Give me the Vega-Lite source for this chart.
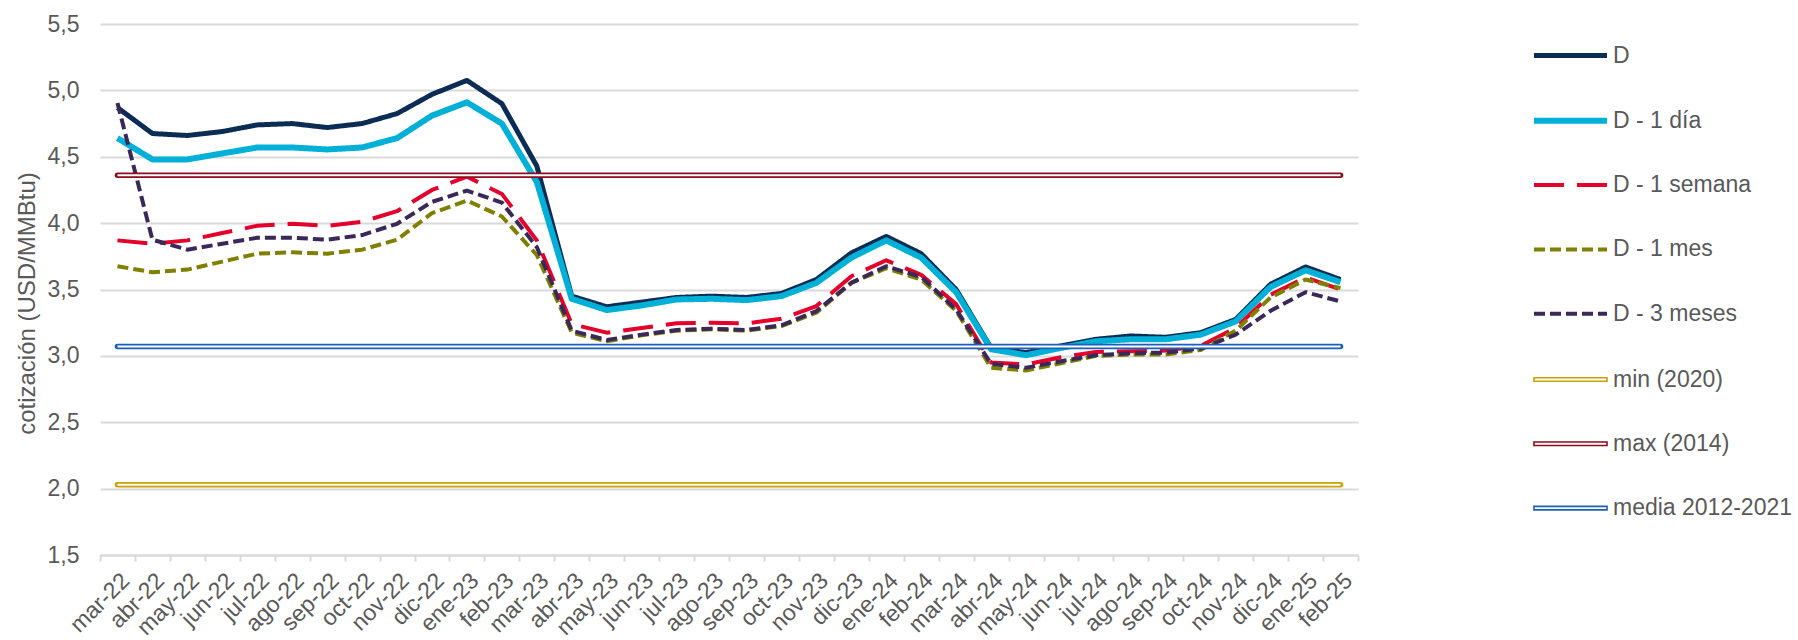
{
  "$schema": "https://vega.github.io/schema/vega-lite/v6.json",
  "width": 1258,
  "height": 531,
  "autosize": {"type": "none"},
  "padding": {"left": 100, "top": 24, "right": 440, "bottom": 85},
  "background": "white",
  "config": {
    "view": {"stroke": null},
    "font": "Liberation Sans",
    "axis": {"labelFont": "Liberation Sans", "titleFont": "Liberation Sans", "labelColor": "#595959", "titleColor": "#595959"},
    "legend": {"labelFont": "Liberation Sans"}
  },
  "datasets": {
    "series": [
      {"m":"mar-22","s":"D","v":4.87},{"m":"abr-22","s":"D","v":4.675},{"m":"may-22","s":"D","v":4.66},{"m":"jun-22","s":"D","v":4.69},{"m":"jul-22","s":"D","v":4.74},{"m":"ago-22","s":"D","v":4.75},{"m":"sep-22","s":"D","v":4.72},{"m":"oct-22","s":"D","v":4.75},{"m":"nov-22","s":"D","v":4.825},{"m":"dic-22","s":"D","v":4.97},{"m":"ene-23","s":"D","v":5.075},{"m":"feb-23","s":"D","v":4.9},{"m":"mar-23","s":"D","v":4.43},{"m":"abr-23","s":"D","v":3.45},{"m":"may-23","s":"D","v":3.37},{"m":"jun-23","s":"D","v":3.405},{"m":"jul-23","s":"D","v":3.44},{"m":"ago-23","s":"D","v":3.45},{"m":"sep-23","s":"D","v":3.44},{"m":"oct-23","s":"D","v":3.47},{"m":"nov-23","s":"D","v":3.575},{"m":"dic-23","s":"D","v":3.775},{"m":"ene-24","s":"D","v":3.9},{"m":"feb-24","s":"D","v":3.77},{"m":"mar-24","s":"D","v":3.5},{"m":"abr-24","s":"D","v":3.06},{"m":"may-24","s":"D","v":3.025},{"m":"jun-24","s":"D","v":3.075},{"m":"jul-24","s":"D","v":3.125},{"m":"ago-24","s":"D","v":3.15},{"m":"sep-24","s":"D","v":3.14},{"m":"oct-24","s":"D","v":3.175},{"m":"nov-24","s":"D","v":3.275},{"m":"dic-24","s":"D","v":3.54},{"m":"ene-25","s":"D","v":3.67},{"m":"feb-25","s":"D","v":3.575},
      {"m":"mar-22","s":"D - 1 día","v":4.64},{"m":"abr-22","s":"D - 1 día","v":4.48},{"m":"may-22","s":"D - 1 día","v":4.48},{"m":"jun-22","s":"D - 1 día","v":4.525},{"m":"jul-22","s":"D - 1 día","v":4.57},{"m":"ago-22","s":"D - 1 día","v":4.57},{"m":"sep-22","s":"D - 1 día","v":4.555},{"m":"oct-22","s":"D - 1 día","v":4.57},{"m":"nov-22","s":"D - 1 día","v":4.64},{"m":"dic-22","s":"D - 1 día","v":4.81},{"m":"ene-23","s":"D - 1 día","v":4.91},{"m":"feb-23","s":"D - 1 día","v":4.75},{"m":"mar-23","s":"D - 1 día","v":4.31},{"m":"abr-23","s":"D - 1 día","v":3.43},{"m":"may-23","s":"D - 1 día","v":3.345},{"m":"jun-23","s":"D - 1 día","v":3.38},{"m":"jul-23","s":"D - 1 día","v":3.425},{"m":"ago-23","s":"D - 1 día","v":3.43},{"m":"sep-23","s":"D - 1 día","v":3.42},{"m":"oct-23","s":"D - 1 día","v":3.45},{"m":"nov-23","s":"D - 1 día","v":3.55},{"m":"dic-23","s":"D - 1 día","v":3.74},{"m":"ene-24","s":"D - 1 día","v":3.87},{"m":"feb-24","s":"D - 1 día","v":3.74},{"m":"mar-24","s":"D - 1 día","v":3.48},{"m":"abr-24","s":"D - 1 día","v":3.05},{"m":"may-24","s":"D - 1 día","v":3.005},{"m":"jun-24","s":"D - 1 día","v":3.06},{"m":"jul-24","s":"D - 1 día","v":3.11},{"m":"ago-24","s":"D - 1 día","v":3.125},{"m":"sep-24","s":"D - 1 día","v":3.125},{"m":"oct-24","s":"D - 1 día","v":3.16},{"m":"nov-24","s":"D - 1 día","v":3.26},{"m":"dic-24","s":"D - 1 día","v":3.52},{"m":"ene-25","s":"D - 1 día","v":3.645},{"m":"feb-25","s":"D - 1 día","v":3.555},
      {"m":"mar-22","s":"D - 1 semana","v":3.87},{"m":"abr-22","s":"D - 1 semana","v":3.845},{"m":"may-22","s":"D - 1 semana","v":3.87},{"m":"jun-22","s":"D - 1 semana","v":3.925},{"m":"jul-22","s":"D - 1 semana","v":3.98},{"m":"ago-22","s":"D - 1 semana","v":3.995},{"m":"sep-22","s":"D - 1 semana","v":3.98},{"m":"oct-22","s":"D - 1 semana","v":4.01},{"m":"nov-22","s":"D - 1 semana","v":4.09},{"m":"dic-22","s":"D - 1 semana","v":4.25},{"m":"ene-23","s":"D - 1 semana","v":4.35},{"m":"feb-23","s":"D - 1 semana","v":4.22},{"m":"mar-23","s":"D - 1 semana","v":3.87},{"m":"abr-23","s":"D - 1 semana","v":3.24},{"m":"may-23","s":"D - 1 semana","v":3.175},{"m":"jun-23","s":"D - 1 semana","v":3.21},{"m":"jul-23","s":"D - 1 semana","v":3.245},{"m":"ago-23","s":"D - 1 semana","v":3.25},{"m":"sep-23","s":"D - 1 semana","v":3.245},{"m":"oct-23","s":"D - 1 semana","v":3.28},{"m":"nov-23","s":"D - 1 semana","v":3.375},{"m":"dic-23","s":"D - 1 semana","v":3.6},{"m":"ene-24","s":"D - 1 semana","v":3.72},{"m":"feb-24","s":"D - 1 semana","v":3.61},{"m":"mar-24","s":"D - 1 semana","v":3.39},{"m":"abr-24","s":"D - 1 semana","v":2.95},{"m":"may-24","s":"D - 1 semana","v":2.935},{"m":"jun-24","s":"D - 1 semana","v":2.99},{"m":"jul-24","s":"D - 1 semana","v":3.03},{"m":"ago-24","s":"D - 1 semana","v":3.035},{"m":"sep-24","s":"D - 1 semana","v":3.04},{"m":"oct-24","s":"D - 1 semana","v":3.075},{"m":"nov-24","s":"D - 1 semana","v":3.21},{"m":"dic-24","s":"D - 1 semana","v":3.46},{"m":"ene-25","s":"D - 1 semana","v":3.59},{"m":"feb-25","s":"D - 1 semana","v":3.5},
      {"m":"mar-22","s":"D - 1 mes","v":3.675},{"m":"abr-22","s":"D - 1 mes","v":3.63},{"m":"may-22","s":"D - 1 mes","v":3.65},{"m":"jun-22","s":"D - 1 mes","v":3.71},{"m":"jul-22","s":"D - 1 mes","v":3.77},{"m":"ago-22","s":"D - 1 mes","v":3.78},{"m":"sep-22","s":"D - 1 mes","v":3.77},{"m":"oct-22","s":"D - 1 mes","v":3.8},{"m":"nov-22","s":"D - 1 mes","v":3.875},{"m":"dic-22","s":"D - 1 mes","v":4.075},{"m":"ene-23","s":"D - 1 mes","v":4.17},{"m":"feb-23","s":"D - 1 mes","v":4.05},{"m":"mar-23","s":"D - 1 mes","v":3.76},{"m":"abr-23","s":"D - 1 mes","v":3.175},{"m":"may-23","s":"D - 1 mes","v":3.11},{"m":"jun-23","s":"D - 1 mes","v":3.155},{"m":"jul-23","s":"D - 1 mes","v":3.19},{"m":"ago-23","s":"D - 1 mes","v":3.2},{"m":"sep-23","s":"D - 1 mes","v":3.19},{"m":"oct-23","s":"D - 1 mes","v":3.225},{"m":"nov-23","s":"D - 1 mes","v":3.325},{"m":"dic-23","s":"D - 1 mes","v":3.55},{"m":"ene-24","s":"D - 1 mes","v":3.66},{"m":"feb-24","s":"D - 1 mes","v":3.575},{"m":"mar-24","s":"D - 1 mes","v":3.34},{"m":"abr-24","s":"D - 1 mes","v":2.91},{"m":"may-24","s":"D - 1 mes","v":2.89},{"m":"jun-24","s":"D - 1 mes","v":2.945},{"m":"jul-24","s":"D - 1 mes","v":3.0},{"m":"ago-24","s":"D - 1 mes","v":3.01},{"m":"sep-24","s":"D - 1 mes","v":3.01},{"m":"oct-24","s":"D - 1 mes","v":3.045},{"m":"nov-24","s":"D - 1 mes","v":3.19},{"m":"dic-24","s":"D - 1 mes","v":3.44},{"m":"ene-25","s":"D - 1 mes","v":3.575},{"m":"feb-25","s":"D - 1 mes","v":3.51},
      {"m":"mar-22","s":"D - 3 meses","v":4.905},{"m":"abr-22","s":"D - 3 meses","v":3.875},{"m":"may-22","s":"D - 3 meses","v":3.8},{"m":"jun-22","s":"D - 3 meses","v":3.845},{"m":"jul-22","s":"D - 3 meses","v":3.89},{"m":"ago-22","s":"D - 3 meses","v":3.89},{"m":"sep-22","s":"D - 3 meses","v":3.875},{"m":"oct-22","s":"D - 3 meses","v":3.91},{"m":"nov-22","s":"D - 3 meses","v":3.995},{"m":"dic-22","s":"D - 3 meses","v":4.16},{"m":"ene-23","s":"D - 3 meses","v":4.245},{"m":"feb-23","s":"D - 3 meses","v":4.155},{"m":"mar-23","s":"D - 3 meses","v":3.82},{"m":"abr-23","s":"D - 3 meses","v":3.19},{"m":"may-23","s":"D - 3 meses","v":3.12},{"m":"jun-23","s":"D - 3 meses","v":3.16},{"m":"jul-23","s":"D - 3 meses","v":3.195},{"m":"ago-23","s":"D - 3 meses","v":3.205},{"m":"sep-23","s":"D - 3 meses","v":3.195},{"m":"oct-23","s":"D - 3 meses","v":3.23},{"m":"nov-23","s":"D - 3 meses","v":3.3375},{"m":"dic-23","s":"D - 3 meses","v":3.55},{"m":"ene-24","s":"D - 3 meses","v":3.675},{"m":"feb-24","s":"D - 3 meses","v":3.595},{"m":"mar-24","s":"D - 3 meses","v":3.35},{"m":"abr-24","s":"D - 3 meses","v":2.94},{"m":"may-24","s":"D - 3 meses","v":2.91},{"m":"jun-24","s":"D - 3 meses","v":2.96},{"m":"jul-24","s":"D - 3 meses","v":3.005},{"m":"ago-24","s":"D - 3 meses","v":3.02},{"m":"sep-24","s":"D - 3 meses","v":3.025},{"m":"oct-24","s":"D - 3 meses","v":3.055},{"m":"nov-24","s":"D - 3 meses","v":3.16},{"m":"dic-24","s":"D - 3 meses","v":3.34},{"m":"ene-25","s":"D - 3 meses","v":3.48},{"m":"feb-25","s":"D - 3 meses","v":3.41}
    ],
    "refs": [
      {"m":"mar-22","s":"min (2020)","v":2.03},{"m":"feb-25","s":"min (2020)","v":2.03},
      {"m":"mar-22","s":"max (2014)","v":4.36},{"m":"feb-25","s":"max (2014)","v":4.36},
      {"m":"mar-22","s":"media 2012-2021","v":3.07},{"m":"feb-25","s":"media 2012-2021","v":3.07}
    ]
  },
  "encoding": {
    "x": {
      "field": "m", "type": "ordinal",
      "sort": ["mar-22","abr-22","may-22","jun-22","jul-22","ago-22","sep-22","oct-22","nov-22","dic-22","ene-23","feb-23","mar-23","abr-23","may-23","jun-23","jul-23","ago-23","sep-23","oct-23","nov-23","dic-23","ene-24","feb-24","mar-24","abr-24","may-24","jun-24","jul-24","ago-24","sep-24","oct-24","nov-24","dic-24","ene-25","feb-25"],
      "scale": {"type": "band", "paddingInner": 0, "paddingOuter": 0},
      "bandPosition": 0.5,
      "axis": {
        "title": null, "labelAngle": -45, "labelFontSize": 23, "labelPadding": 8,
        "tickBand": "extent", "tickSize": 6, "tickColor": "#d9d9d9", "tickWidth": 2,
        "domainColor": "#d9d9d9", "domainWidth": 2, "grid": false
      }
    },
    "y": {
      "field": "v", "type": "quantitative",
      "scale": {"domain": [1.5, 5.5], "nice": false, "zero": false},
      "axis": {
        "title": "cotización (USD/MMBtu)", "titleFontSize": 24, "titleFontWeight": "normal", "titlePadding": 8, "titleY": 279,
        "values": [1.5, 2, 2.5, 3, 3.5, 4, 4.5, 5, 5.5],
        "labelExpr": "replace(format(datum.value, '.1f'), '.', ',')",
        "labelFontSize": 23, "labelPadding": 21, "ticks": false, "domain": false,
        "grid": true, "gridColor": "#d9d9d9", "gridWidth": 2
      }
    }
  },
  "layer": [
    {
      "data": {"name": "series"},
      "mark": {"type": "line", "strokeJoin": "round", "strokeCap": "butt"},
      "encoding": {
        "color": {
          "field": "s", "type": "nominal",
          "scale": {"domain": ["D","D - 1 día","D - 1 semana","D - 1 mes","D - 3 meses"], "range": ["#0b2d55","#00b0d6","#e4002b","#7f8000","#3a2859"]},
          "legend": {
            "orient": "none", "legendX": 1459, "legendY": 20, "title": null, "padding": 0,
            "symbolType": "M-7.3,0H7.3", "symbolSize": 100, "symbolStrokeWidth": 4.5,
            "labelFontSize": 23, "labelColor": "#595959", "labelOffset": 31, "rowPadding": 40.3, "labelLimit": 400
          }
        },
        "strokeDash": {
          "field": "s", "type": "nominal",
          "scale": {"domain": ["D","D - 1 día","D - 1 semana","D - 1 mes","D - 3 meses"], "range": [[1,0],[1,0],[30,13],[11,5],[11,5]]},
          "legend": {
            "orient": "none", "legendX": 1459, "legendY": 20, "title": null, "padding": 0,
            "symbolType": "M-7.3,0H7.3", "symbolSize": 100, "symbolStrokeWidth": 4.5,
            "labelFontSize": 23, "labelColor": "#595959", "labelOffset": 31, "rowPadding": 40.3, "labelLimit": 400
          }
        },
        "strokeWidth": {
          "field": "s", "type": "nominal",
          "scale": {"type": "ordinal", "domain": ["D","D - 1 día","D - 1 semana","D - 1 mes","D - 3 meses"], "range": [5, 6, 4, 4, 4]},
          "legend": null
        }
      }
    },
    {
      "data": {"name": "refs"},
      "mark": {"type": "line", "strokeWidth": 5.5, "strokeCap": "round"},
      "encoding": {
        "stroke": {
          "field": "s", "type": "nominal",
          "scale": {"domain": ["min (2020)","max (2014)","media 2012-2021"], "range": ["#c9a200","#8e0a1e","#1c5fb8"]},
          "legend": {
            "orient": "none", "legendX": 1459, "legendY": 344, "title": null, "padding": 0,
            "symbolType": "M-7.3,-0.35H7.3V0.35H-7.3Z", "symbolSize": 100, "symbolStrokeWidth": 1.6, "symbolFillColor": "#ffffff",
            "labelFontSize": 23, "labelColor": "#595959", "labelOffset": 31, "rowPadding": 40.3, "labelLimit": 400
          }
        }
      }
    },
    {
      "data": {"name": "refs"},
      "mark": {"type": "line", "strokeWidth": 2, "strokeCap": "butt", "stroke": "#ffffff"},
      "encoding": {"detail": {"field": "s", "type": "nominal"}}
    }
  ]
}
